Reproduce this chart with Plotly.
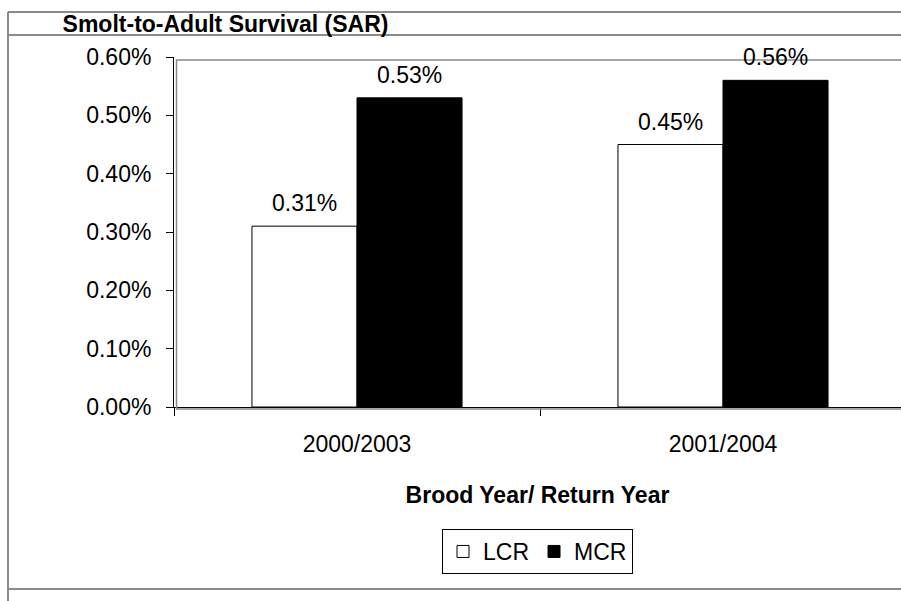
import plotly.graph_objects as go

# ---- data ----
categories = ["2000/2003", "2001/2004"]
lcr_values = [0.0031, 0.0045]
mcr_values = [0.0053, 0.0056]
series_names = ["LCR", "MCR"]
y_tick_vals = [0, 0.001, 0.002, 0.003, 0.004, 0.005, 0.006]

# ---- layout geometry (pixels) ----
W, H = 901, 601
L, R, T, B = 174, 0, 57, 194
PW, PH = W - L - R, H - T - B
CAT_PX = 366  # pixel width of one category
BARGAP = 0.426
FONT = "Liberation Sans, Arial, sans-serif"
FS = 23
GRAY = "#8a8a8a"


def px_x(px):
    return (px - L) / PW


def px_y(py):
    return (H - B - py) / PH


fig = go.Figure()
fig.add_trace(go.Bar(
    name=series_names[0], x=categories, y=lcr_values,
    marker=dict(color="white", line=dict(color="black", width=1)),
))
fig.add_trace(go.Bar(
    name=series_names[1], x=categories, y=mcr_values,
    marker=dict(color="black", line=dict(color="black", width=1)),
))

# data labels
annotations = []
half = (1 - BARGAP) / 4
for vals, sign in ((lcr_values, -1), (mcr_values, 1)):
    for i, v in enumerate(vals):
        annotations.append(dict(
            x=i + sign * half, y=v, xref="x", yref="y",
            text=f"{v*100:.2f}%", showarrow=False,
            yanchor="middle", yshift=23,
            font=dict(family=FONT, size=FS, color="black"),
        ))

line_style = dict(color=GRAY, width=2)
shapes = [
    # frame of the chart area
    dict(type="line", xref="paper", yref="paper", x0=px_x(8), x1=px_x(905), y0=px_y(12), y1=px_y(12), line=line_style),
    dict(type="line", xref="paper", yref="paper", x0=px_x(8), x1=px_x(905), y0=px_y(35), y1=px_y(35), line=line_style),
    dict(type="line", xref="paper", yref="paper", x0=px_x(8), x1=px_x(8), y0=px_y(12), y1=px_y(605), line=line_style),
    dict(type="line", xref="paper", yref="paper", x0=px_x(8), x1=px_x(905), y0=px_y(589), y1=px_y(589), line=line_style),
    # plot-area border
    dict(type="rect", xref="paper", yref="paper", x0=px_x(176.5), x1=px_x(910), y0=px_y(409), y1=px_y(60),
         line=dict(color=GRAY, width=1.5)),
]

fig.update_layout(
    width=W, height=H,
    margin=dict(l=L, r=R, t=T, b=B, autoexpand=False),
    paper_bgcolor="white", plot_bgcolor="white",
    barmode="group", bargap=BARGAP, bargroupgap=0,
    font=dict(family=FONT, size=FS, color="black"),
    title=dict(text="<b>Smolt-to-Adult Survival (SAR)</b>", x=225.5 / W, xanchor="center",
               y=1 - 24 / H, yanchor="middle", xref="container", yref="container",
               font=dict(family=FONT, size=FS, color="black")),
    xaxis=dict(
        type="category", range=[-0.5, -0.5 + PW / CAT_PX],
        showline=True, linecolor="black", linewidth=1,
        ticks="outside", tickson="boundaries", ticklen=8, tickcolor="black",
        ticklabelstandoff=16,
        title=dict(text="<b>Brood Year/ Return Year</b>", standoff=31,
                   font=dict(family=FONT, size=FS, color="black")),
        showgrid=False, zeroline=False,
    ),
    yaxis=dict(
        range=[0, 0.006], tickvals=y_tick_vals, tickformat=".2%",
        showline=True, linecolor="black", linewidth=1,
        ticks="outside", ticklen=7, tickcolor="black",
        ticklabelstandoff=10,
        showgrid=False, zeroline=False,
    ),
    legend=dict(
        orientation="h", x=0.5, xanchor="center", y=px_y(551.5), yanchor="middle",
        bordercolor="black", borderwidth=1, bgcolor="white",
        font=dict(family=FONT, size=FS, color="black"),
        itemwidth=30, traceorder="normal",
    ),
    annotations=annotations,
    shapes=shapes,
    showlegend=True,
)

fig.write_html("out.html")
